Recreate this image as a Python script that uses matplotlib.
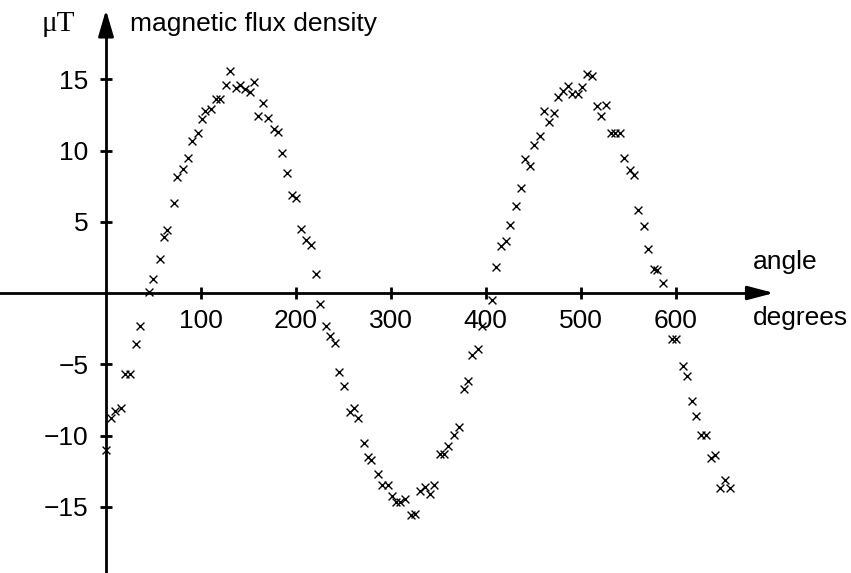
import matplotlib
matplotlib.use("Agg")
import matplotlib.pyplot as plt

angle_deg = [0, 5.5, 9.3, 16.3, 20.2, 24.8, 31.1, 35.3, 45.5, 50, 56.4, 60.6, 64.1, 71.5, 75,
             80.6, 85.9, 90.8, 96.4, 100.6, 104.5, 110.8, 116.1, 119.9, 125.9, 130.5, 136.8,
             141, 146.3, 151.2, 155.4, 160.4, 165.6, 170.5, 176.5, 181, 184.9, 190.9, 195.5,
             199.7, 205.7, 210.9, 215.5, 221.5, 225.5, 232, 235.6, 240.8, 245.6, 250.3, 256.9,
             261.5, 265.7, 271.3, 275.6, 279.4, 286.8, 290.3, 297, 301.2, 305.1, 309.6, 315.3,
             320.9, 325.4, 330.3, 335.9, 341.6, 345.4, 351.7, 356, 360.2, 366.5, 371.8, 377,
             381.7, 385.9, 391.8, 396.4, 407, 410.8, 415.7, 421, 425.9, 431.8, 437.1, 441, 447,
             450.8, 456.8, 461.3, 466.3, 471.9, 475.8, 481, 486.6, 491.2, 496.8, 501.4, 506.6,
             511.6, 517.2, 521.4, 526.7, 531.6, 536.5, 541.4, 545.6, 552, 556.2, 560.8, 567.1,
             571.3, 577.3, 580.8, 586.7, 596.6, 600.8, 607.3, 612.4, 617.7, 621.9, 626.5, 632.3,
             637, 641.6, 646.5, 651.7, 657.3]
flux_uT = [-11.0, -8.8, -8.25, -8.1, -5.7, -5.7, -3.6, -2.35, 0.05, 1.0, 2.4, 3.95, 4.4, 6.35, 8.15,
           8.7, 9.45, 10.65, 11.25, 12.2, 12.8, 12.9, 13.6, 13.6, 14.6, 15.55, 14.4,
           14.6, 14.3, 14.1, 14.8, 12.45, 13.3, 12.3, 11.5, 11.3, 9.85, 8.4, 6.9,
           6.65, 4.5, 3.7, 3.4, 1.3, -0.8, -2.3, -3.05, -3.5, -5.55, -6.55, -8.35,
           -8.05, -8.8, -10.5, -11.5, -11.75, -12.7, -13.45, -13.45, -14.25, -14.65, -14.65, -14.45,
           -15.6, -15.5, -13.9, -13.6, -14.1, -13.45, -11.3, -11.3, -10.75, -9.95, -9.4, -6.75,
           -6.15, -4.35, -3.9, -2.3, -0.5, 1.85, 3.3, 3.65, 4.8, 6.1, 7.35, 9.4, 8.9,
           10.4, 11.05, 12.8, 12.0, 12.65, 13.75, 14.15, 14.5, 13.95, 13.95, 14.45, 15.4,
           15.2, 13.1, 12.45, 13.2, 11.25, 11.25, 11.25, 9.45, 8.6, 8.3, 5.8, 4.7,
           3.1, 1.7, 1.6, 0.7, -3.2, -3.2, -5.15, -5.8, -7.55, -8.65, -9.95, -9.95,
           -11.6, -11.35, -13.7, -13.1, -13.65]

x_ticks = [100, 200, 300, 400, 500, 600]
y_ticks = [-15, -10, -5, 5, 10, 15]
y_ticklabels = ["\u221215", "\u221210", "\u22125", "5", "10", "15"]

W, H = 851, 573
DPI = 100
x0_px, x_scale = 106.0, 0.9494   # pixels per degree
y0_px, y_scale = 293.0, 14.25    # pixels per uT

plt.rcParams['font.family'] = ['Liberation Sans', 'DejaVu Sans']
fig = plt.figure(figsize=(W / DPI, H / DPI), dpi=DPI)
ax = fig.add_axes([0, 0, 1, 1])
ax.set_xlim(-x0_px / x_scale, (W - x0_px) / x_scale)
ax.set_ylim(-(H - y0_px) / y_scale, y0_px / y_scale)
ax.patch.set_visible(False)

ax.scatter(angle_deg, flux_uT, marker='x', s=32, color='black', linewidths=1.0, zorder=3)

lw = 2.0
for side in ('top', 'right'):
    ax.spines[side].set_visible(False)
ax.spines['left'].set_position(('data', 0))
ax.spines['bottom'].set_position(('data', 0))
ax.spines['left'].set_linewidth(lw)
ax.spines['bottom'].set_linewidth(lw)
x_tip = (774 - x0_px) / x_scale
y_tip = (y0_px - 10) / y_scale
ax.spines['bottom'].set_bounds(-x0_px / x_scale, x_tip - 20 / x_scale)
ax.spines['left'].set_bounds(-(H - y0_px) / y_scale, y_tip - 20 / y_scale)

ax.annotate('', xy=(x_tip, 0), xytext=(x_tip - 23 / x_scale, 0),
            arrowprops=dict(arrowstyle='-|>,head_length=16,head_width=4.2', mutation_scale=1,
                            color='black', lw=lw, shrinkA=0, shrinkB=0))
ax.annotate('', xy=(0, y_tip), xytext=(0, y_tip - 23 / y_scale),
            arrowprops=dict(arrowstyle='-|>,head_length=16,head_width=4.7', mutation_scale=1,
                            color='black', lw=lw, shrinkA=0, shrinkB=0))

fs = 19
ax.set_xticks(x_ticks)
ax.set_xticklabels([str(t) for t in x_ticks])
ax.set_yticks(y_ticks)
ax.set_yticklabels(y_ticklabels)
ax.tick_params(axis='both', direction='inout', length=9, width=lw, labelsize=fs, color='black')
ax.tick_params(axis='x', pad=7)
ax.tick_params(axis='y', pad=8)

ax.text((42 - x0_px) / x_scale, (y0_px - 24) / y_scale, 'μT', family=['Liberation Serif', 'DejaVu Serif'],
        fontsize=21, ha='left', va='center')
ax.text((130 - x0_px) / x_scale, (y0_px - 24) / y_scale, 'magnetic flux density', fontsize=fs,
        ha='left', va='center')
ax.text((753 - x0_px) / x_scale, (y0_px - 262) / y_scale, 'angle', fontsize=fs, ha='left', va='center')
ax.text((753 - x0_px) / x_scale, (y0_px - 318) / y_scale, 'degrees', fontsize=fs, ha='left', va='center')

fig.savefig('out.png', dpi=DPI)
